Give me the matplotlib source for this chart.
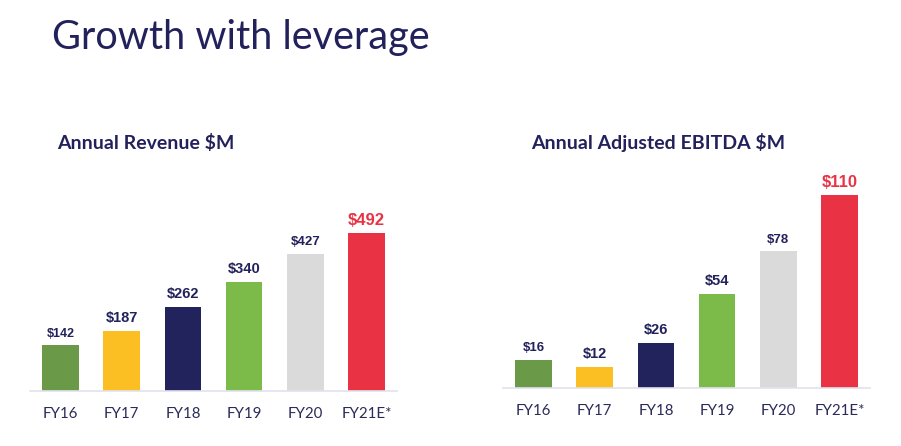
import matplotlib.pyplot as plt

# data
years = ['FY16', 'FY17', 'FY18', 'FY19', 'FY20', 'FY21E*']
revenue = [142, 187, 262, 340, 427, 492]
ebitda = [16, 12, 26, 54, 78, 110]

bar_colors = ['#6A9A48', '#FBBF24', '#22225C', '#7CBB4A', '#DADADA', '#E93344']
navy = '#22215B'
red = '#E93344'
lbl_colors = [navy, navy, navy, navy, navy, red]
rev_sizes = [9, 10.5, 10.5, 10.5, 9.5, 12]
ebit_sizes = [9.5, 10.5, 10.5, 10.5, 9.5, 12]

W, H = 901, 446
fig = plt.figure(figsize=(W / 100, H / 100), dpi=100)
fig.patch.set_facecolor('white')


def px_axes(x0, y_base, width, height):
    # pixel box -> figure fraction
    return fig.add_axes([x0 / W, (H - y_base) / H, width / W, height / H])


def draw(ax, vals, sizes, ytop, gap):
    x = range(len(vals))
    ax.bar(x, vals, width=0.6, color=bar_colors)
    for i, v in enumerate(vals):
        ax.annotate('$%d' % v, (i, v), xytext=(0, gap), textcoords='offset points',
                    ha='center', va='bottom', fontsize=sizes[i], fontweight='bold',
                    color=lbl_colors[i], family='Liberation Sans')
    ax.set_xlim(-0.5, 5.5)
    ax.set_ylim(0, ytop)
    ax.set_xticks(list(x))
    ax.set_xticklabels(years, fontsize=10.8, color='#2B2B5A', family='Lato')
    ax.tick_params(axis='x', length=0, pad=11.5)
    ax.set_yticks([])
    for s in ['top', 'right', 'left']:
        ax.spines[s].set_visible(False)
    ax.spines['bottom'].set_color('#E2E2EE')
    ax.spines['bottom'].set_linewidth(1.2)
    ax.set_facecolor('none')


ax1 = px_axes(30, 391, 367, 200)
draw(ax1, revenue, rev_sizes, 200 / 0.321, 4)

ax2 = px_axes(503, 388, 367, 220)
draw(ax2, ebitda, ebit_sizes, 220 / 1.75, 4)

fig.text(52 / W, 1 - 49 / H, 'Growth with leverage', fontsize=28.5, color=navy,
         family='Lato', va='baseline', ha='left')
fig.text(57 / W, 1 - 149 / H, 'Annual Revenue $M', fontsize=14, color=navy,
         family='Lato', fontweight='bold', va='baseline', ha='left')
fig.text(531 / W, 1 - 149 / H, 'Annual Adjusted EBITDA $M', fontsize=14, color=navy,
         family='Lato', fontweight='bold', va='baseline', ha='left')

fig.savefig('out.png', dpi=100, facecolor='white')
